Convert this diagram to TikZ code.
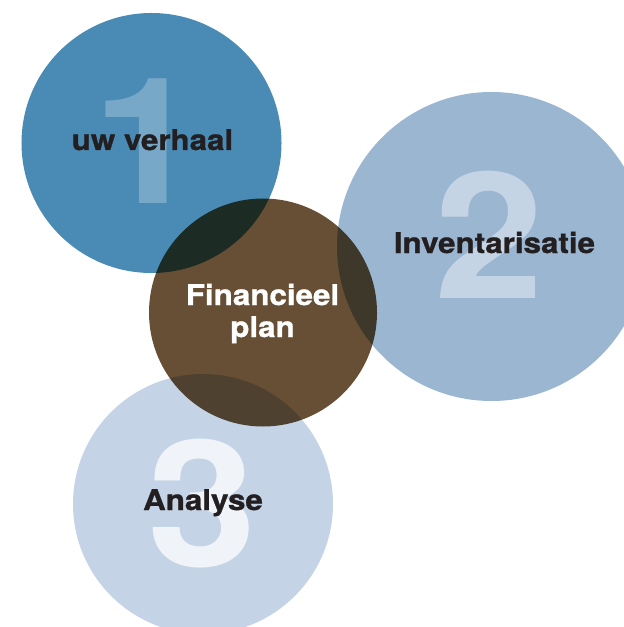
\documentclass[tikz,border=0pt]{standalone}
\usepackage{fontspec}
\newfontfamily\labelfont{TeX Gyre Heros}[BoldFeatures={FakeStretch=1.1,FakeBold=1}]
\newfontfamily\numfont{TeX Gyre Heros}[BoldFeatures={FakeStretch=1.12}]
\definecolor{stepone}{HTML}{4A8BB5}
\definecolor{steptwo}{HTML}{9BB6D1}
\definecolor{stepthree}{HTML}{C4D4E6}
\definecolor{plancol}{HTML}{664F35}
\definecolor{ink}{HTML}{231F20}
\begin{document}
\begin{tikzpicture}[x=1bp,y=-1bp]
\tikzstyle{every node}+=[inner sep=0pt, outer sep=0pt]
\tikzstyle{disc}=[circle, draw=none]
\tikzstyle{numeral}=[font={\numfont\bfseries\fontsize{176bp}{176bp}\selectfont}]
\tikzstyle{caption}=[font={\labelfont\bfseries\fontsize{28.5bp}{32bp}\selectfont}, text=ink, align=center]
\useasboundingbox (0,0) rectangle (624,627);
\clip (0,0) rectangle (624,627);
% the three steps
\node [disc, fill=stepone, minimum size=260bp] (one) at (151.5,143) {};
\node [disc, fill=steptwo, minimum size=309bp] (two) at (491.5,246.5) {};
\node [disc, fill=stepthree, minimum size=260bp] (three) at (203,504) {};
\node [numeral, text=white!25!stepone] (numone) at (147,141) {1};
\node [numeral, text=white!41!steptwo] (numtwo) at (489,234.5) {2};
\node [numeral, text=white!75!stepthree] (numthree) at (202.5,504) {3};
\node [caption, anchor=base] (lblone) at (152.5,150) {uw verhaal};
\node [caption, anchor=base] (lbltwo) at (494.5,253) {Inventarisatie};
\node [caption, anchor=base] (lblthree) at (203,510) {Analyse};
% the plan in the middle
\begin{scope}[blend mode=multiply]
\node [disc, fill=plancol, minimum size=228bp] (plan) at (263,312.5) {};
\end{scope}
\node [caption, text=white, anchor=base] (lblplan) at (262.5,337) {Financieel\\plan};
\end{tikzpicture}
\end{document}
